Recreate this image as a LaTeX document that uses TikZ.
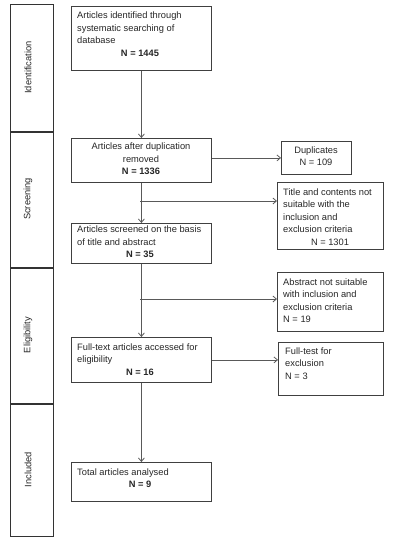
\documentclass[tikz,border=0pt]{standalone}
\usepackage{fontspec}
\setmainfont{Liberation Sans}
\usetikzlibrary{arrows.meta}
\begin{document}
\begin{tikzpicture}[x=1pt,y=-1pt,
  box/.style={draw=black!75,line width=0.8pt,rectangle,inner sep=0pt,anchor=north west},
  bar/.style={draw=black!80,line width=0.9pt,rectangle,inner sep=0pt,anchor=north west,minimum width=43pt},
  txt/.style={anchor=base west,inner sep=0pt,font=\fontsize{9.3}{12.5}\selectfont,text=black!85},
  ctxt/.style={anchor=base,inner sep=0pt,font=\fontsize{9.3}{12.5}\selectfont,text=black!85},
  btxt/.style={anchor=base,inner sep=0pt,font=\fontsize{9.3}{12.5}\selectfont\bfseries,text=black!85},
  side/.style={inner sep=0pt,rotate=90,font=\fontsize{9.3}{11}\selectfont,text=black!85},
  arr/.style={draw=black!65,line width=0.8pt,-{Straight Barb[length=3.5pt,width=6pt]}}]
\useasboundingbox (0,0) rectangle (400,544);
% side bars
\node[bar,minimum height=127pt] (s1) at (10,4) {};
\node[bar,minimum height=135pt] (s2) at (10,132) {};
\node[bar,minimum height=135pt] (s3) at (10,268) {};
\node[bar,minimum height=132pt] (s4) at (10,404) {};
\node[side] (l1) at (28,67.5) {Identification};
\node[side] (l2) at (28,199) {Screening};
\node[side] (l3) at (28,335) {Eligibility};
\node[side] (l4) at (28,469.5) {Included};
% main boxes
\node[box,minimum width=140pt,minimum height=64pt] (b1) at (71,6) {};
\node[box,minimum width=140pt,minimum height=44pt] (b2) at (71,138) {};
\node[box,minimum width=140pt,minimum height=40pt] (b3) at (71,223) {};
\node[box,minimum width=140pt,minimum height=45pt] (b4) at (71,337) {};
\node[box,minimum width=140pt,minimum height=39pt] (b5) at (71,462) {};
% side boxes
\node[box,minimum width=70pt,minimum height=33pt] (d1) at (281,141) {};
\node[box,minimum width=106pt,minimum height=67pt] (d2) at (277,182) {};
\node[box,minimum width=106pt,minimum height=59pt] (d3) at (277,272) {};
\node[box,minimum width=105pt,minimum height=53pt] (d4) at (278,342) {};
% texts box 1
\node[txt] (t11) at (77,18.5) {Articles identified through};
\node[txt] (t12) at (77,31) {systematic searching of};
\node[txt] (t13) at (77,43.5) {database};
\node[btxt] (t14) at (140,56) {N = 1445};
% box 2
\node[ctxt] (t21) at (141,149.5) {Articles after duplication};
\node[ctxt] (t22) at (141,162) {removed};
\node[btxt] (t23) at (141,174.5) {N = 1336};
% box 3
\node[txt] (t31) at (77,232.5) {Articles screened on the basis};
\node[txt] (t32) at (77,245) {of title and abstract};
\node[btxt] (t33) at (140,257.5) {N = 35};
% box 4
\node[txt] (t41) at (77,350) {Full-text articles accessed for};
\node[txt] (t42) at (77,362.5) {eligibility};
\node[btxt] (t43) at (140,375) {N = 16};
% box 5
\node[txt] (t51) at (77,475) {Total articles analysed};
\node[btxt] (t52) at (140,487.5) {N = 9};
% duplicates
\node[ctxt] (u11) at (316,153) {Duplicates};
\node[ctxt] (u12) at (316,165.5) {N = 109};
% title box
\node[txt] (u21) at (283,195) {Title and contents not};
\node[txt] (u22) at (283,207.5) {suitable with the};
\node[txt] (u23) at (283,220) {inclusion and};
\node[txt] (u24) at (283,232.5) {exclusion criteria};
\node[ctxt] (u25) at (330,245) {N = 1301};
% abstract box
\node[txt] (u31) at (283,285) {Abstract not suitable};
\node[txt] (u32) at (283,297.5) {with inclusion and};
\node[txt] (u33) at (283,310) {exclusion criteria};
\node[txt] (u34) at (283,322.5) {N = 19};
% full-test box
\node[txt] (u41) at (285,354) {Full-test for};
\node[txt] (u42) at (285,366.5) {exclusion};
\node[txt] (u43) at (285,379) {N = 3};
% connectors
\coordinate (j1) at (140,201);
\coordinate (j2) at (140,299);
\draw[arr] (b1.south) -- (b2.north);
\draw[arr] (b2.south) -- (b3.north);
\draw[arr] (b3.south) -- (b4.north);
\draw[arr] (b4.south) -- (b5.north);
\draw[arr] (b2.east |- d1.west) -- (d1.west);
\draw[arr] (j1) -- (j1 -| d2.west);
\draw[arr] (j2) -- (j2 -| d3.west);
\draw[arr] (b4.east) -- (b4.east -| d4.west);
\end{tikzpicture}
\end{document}
